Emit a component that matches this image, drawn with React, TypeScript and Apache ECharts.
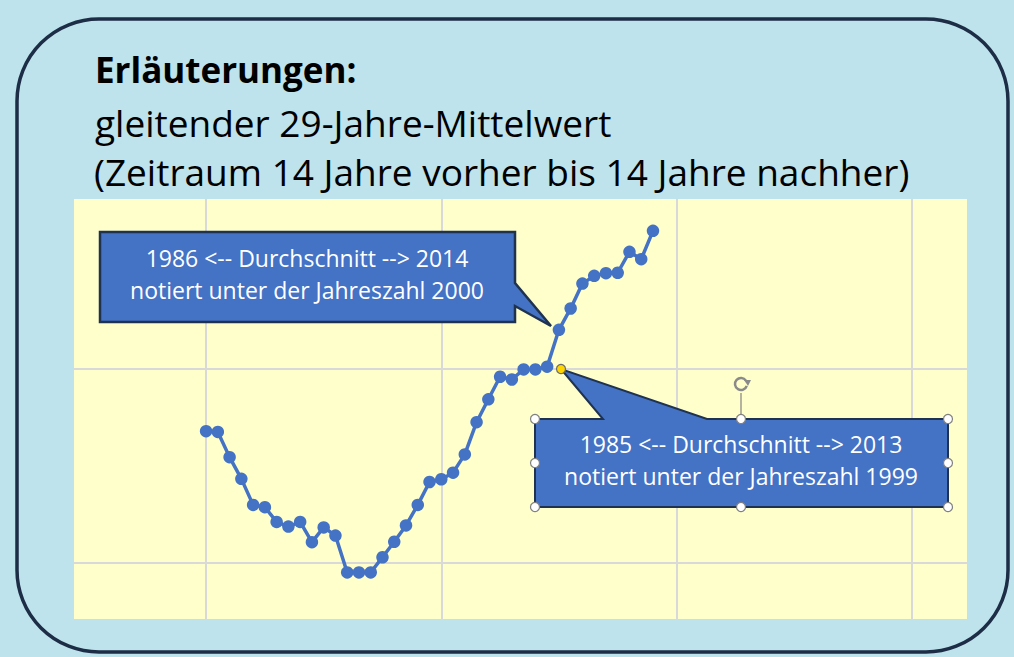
import React, { useEffect, useRef } from "react";
import * as echarts from "echarts";

const years = [
  1970, 1971, 1972, 1973, 1974, 1975, 1976, 1977, 1978, 1979,
  1980, 1981, 1982, 1983, 1984, 1985, 1986, 1987, 1988, 1989,
  1990, 1991, 1992, 1993, 1994, 1995, 1996, 1997, 1998, 1999,
  2000, 2001, 2002, 2003, 2004, 2005, 2006, 2007, 2008,
];
const values = [
  8.340, 8.338, 8.273, 8.217, 8.150, 8.144, 8.106, 8.094, 8.106, 8.054,
  8.092, 8.071, 7.976, 7.976, 7.976, 8.015, 8.055, 8.097, 8.150, 8.209,
  8.216, 8.233, 8.280, 8.363, 8.422, 8.480, 8.473, 8.499, 8.499, 8.506,
  8.601, 8.656, 8.720, 8.740, 8.747, 8.748, 8.802, 8.783, 8.856,
];
const xGridYears = [1970, 1990, 2010, 2030];
const yGridValues = [8.0, 8.5];

const titleLines = [
  "Erläuterungen:",
  "gleitender 29-Jahre-Mittelwert",
  "(Zeitraum 14 Jahre vorher bis 14 Jahre nachher)",
];
const callout1 = ["1986 <-- Durchschnitt --> 2014", "notiert unter der Jahreszahl 2000"];
const callout2 = ["1985 <-- Durchschnitt --> 2013", "notiert unter der Jahreszahl 1999"];

const FONT = "'Open Sans'";
const BLUE = "#4472c4";

export default function App() {
  const ref = useRef<HTMLDivElement>(null);
  useEffect(() => {
    if (!ref.current) return;
    const chart = echarts.init(ref.current, undefined, { renderer: "svg" });
    const handle = (x: number, y: number) => ({
      type: "circle",
      z: 120,
      shape: { cx: x, cy: y, r: 4.5 },
      style: { fill: "#ffffff", stroke: "#808080", lineWidth: 1.2 },
    });
    const txt = (s: string, x: number, y: number, font: string, fill: string, align = "left") => ({
      type: "text",
      z: 110,
      x,
      y,
      style: { text: s, font, fill, align, verticalAlign: "middle" },
    });
    chart.setOption({
      animation: false,
      backgroundColor: "#bee3ec",
      grid: {
        left: 74,
        right: 47,
        top: 199,
        bottom: 38,
        show: true,
        backgroundColor: "#ffffcc",
        borderWidth: 0,
      },
      xAxis: {
        type: "value",
        min: 1958.77,
        max: 2034.7,
        show: false,
        splitLine: { show: false },
      },
      yAxis: {
        type: "value",
        min: 7.856,
        max: 8.938,
        show: false,
        splitLine: { show: false },
      },
      series: [
        {
          type: "line",
          z: 3,
          data: years.map((y, i) => [y, values[i]]),
          symbol: "circle",
          symbolSize: 12.5,
          lineStyle: { color: BLUE, width: 3.5 },
          itemStyle: { color: BLUE },
          markLine: {
            z: 1,
            silent: true,
            symbol: "none",
            label: { show: false },
            lineStyle: { color: "#d9d9d9", type: "solid", width: 2 },
            data: [
              ...xGridYears.map((v) => ({ xAxis: v })),
              ...yGridValues.map((v) => ({ yAxis: v })),
            ],
          },
        },
      ],
      graphic: [
        {
          type: "rect",
          z: 50,
          shape: { x: 17, y: 19, width: 991, height: 633, r: 82 },
          style: { fill: "none", stroke: "#1c2d45", lineWidth: 3.5 },
        },
        txt(titleLines[0], 95, 69, `bold 35px ${FONT}`, "#000000"),
        txt(titleLines[1], 95, 122, `37px ${FONT}`, "#000000"),
        txt(titleLines[2], 94, 171, `37px ${FONT}`, "#000000"),
        // Callout 1
        {
          type: "polygon",
          z: 100,
          shape: {
            points: [
              [100, 232], [515, 232], [515, 283], [551, 326],
              [515, 306], [515, 322], [100, 322],
            ],
          },
          style: { fill: BLUE, stroke: "#1f3350", lineWidth: 2.5 },
        },
        txt(callout1[0], 307, 258, `23px ${FONT}`, "#ffffff", "center"),
        txt(callout1[1], 307, 290, `23px ${FONT}`, "#ffffff", "center"),
        // Callout 2
        {
          type: "polygon",
          z: 100,
          shape: {
            points: [
              [535, 419], [603, 419], [561, 369], [707, 419],
              [948, 419], [948, 507], [535, 507],
            ],
          },
          style: { fill: BLUE, stroke: "#1f3350", lineWidth: 2 },
        },
        txt(callout2[0], 741, 444, `23px ${FONT}`, "#ffffff", "center"),
        txt(callout2[1], 741, 476, `23px ${FONT}`, "#ffffff", "center"),
        // selection handles
        {
          type: "line",
          z: 115,
          shape: { x1: 741, y1: 393, x2: 741, y2: 419 },
          style: { stroke: "#808080", lineWidth: 1.2 },
        },
        {
          type: "arc",
          z: 115,
          shape: { cx: 741, cy: 384, r: 6, startAngle: 0.3, endAngle: Math.PI * 2 - 0.6 },
          style: { stroke: "#8a8a8a", lineWidth: 2.5, fill: "none" },
        },
        {
          type: "polygon",
          z: 116,
          shape: { points: [[744, 380], [751, 380], [748, 386]] },
          style: { fill: "#8a8a8a" },
        },
        handle(535, 419),
        handle(741, 419),
        handle(948, 419),
        handle(535, 463),
        handle(948, 463),
        handle(535, 507),
        handle(741, 507),
        handle(948, 507),
        {
          type: "circle",
          z: 120,
          shape: { cx: 561, cy: 369, r: 4.5 },
          style: { fill: "#ffd500", stroke: "#6b6b6b", lineWidth: 1.2 },
        },
      ],
    });
    return () => chart.dispose();
  }, []);
  return (
    <div
      ref={ref}
      style={{ position: "fixed", left: 0, top: 0, width: 1014, height: 657 }}
    />
  );
}
